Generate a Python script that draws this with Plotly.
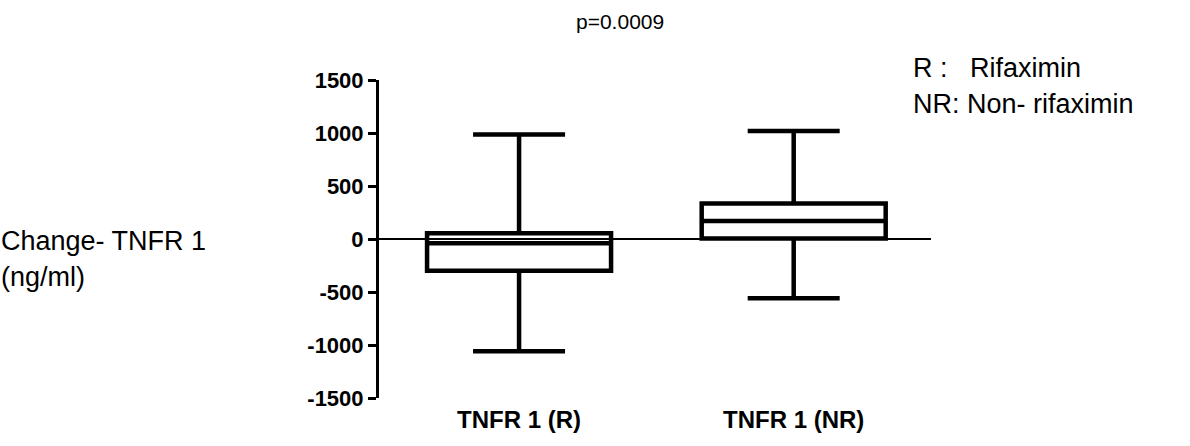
import plotly.graph_objects as go

# Group labels and five-number summaries (ng/ml change)
groups = ["TNFR 1 (R)", "TNFR 1 (NR)"]
upper_whisker = [985, 1020]
q3_values = [55, 335]
medians = [-40, 170]
q1_values = [-300, 5]
lower_whisker = [-1060, -560]

y_ticks = [-1500, -1000, -500, 0, 500, 1000, 1500]

fig = go.Figure()
for i, name in enumerate(groups):
    fig.add_trace(go.Box(
        x=[i],
        q1=[q1_values[i]],
        median=[medians[i]],
        q3=[q3_values[i]],
        lowerfence=[lower_whisker[i]],
        upperfence=[upper_whisker[i]],
        name=name,
        width=0.67,
        whiskerwidth=0.5,
        boxpoints=False,
        line=dict(color="black", width=4.5),
        fillcolor="rgba(0,0,0,0)",
        showlegend=False,
    ))

font_main = "Liberation Sans, Arial, sans-serif"


def text_note(text, x, y, size, anchor="left"):
    return dict(text=text, xref="paper", yref="paper", x=x, y=y,
                xanchor=anchor, yanchor="middle", showarrow=False, borderpad=0,
                font=dict(size=size, family=font_main, color="black"))


fig.update_layout(
    width=1190,
    height=446,
    margin=dict(l=379, r=259, t=80, b=48),
    paper_bgcolor="white",
    plot_bgcolor="white",
    font=dict(family=font_main, color="black"),
    xaxis=dict(
        range=[-0.51, 1.5],
        tickvals=[0, 1],
        ticktext=[f"<b>{g}</b>" for g in groups],
        tickfont=dict(size=24, family=font_main),
        ticklabelstandoff=5,
        showline=False,
        showgrid=False,
        zeroline=False,
        ticks="",
        fixedrange=True,
    ),
    yaxis=dict(
        range=[-1500, 1500],
        tickvals=y_ticks,
        ticktext=[f"<b>{v}</b>" for v in y_ticks],
        tickfont=dict(size=22, family=font_main),
        ticks="outside",
        ticklen=8,
        tickwidth=3,
        tickcolor="black",
        showline=True,
        linewidth=3,
        linecolor="black",
        showgrid=False,
        zeroline=True,
        zerolinecolor="black",
        zerolinewidth=2,
        fixedrange=True,
    ),
    annotations=[
        text_note("p=0.0009", 0.4366, 1.184, 21, anchor="center"),
        text_note("R :\u00a0\u00a0 Rifaximin", 0.9656, 1.039, 27),
        text_note("NR: Non- rifaximin", 0.9656, 0.926, 27),
        text_note("Change- TNFR 1", -0.6866, 0.494, 27),
        text_note("(ng/ml)", -0.6866, 0.381, 27),
    ],
)

fig.write_html("out.html")
